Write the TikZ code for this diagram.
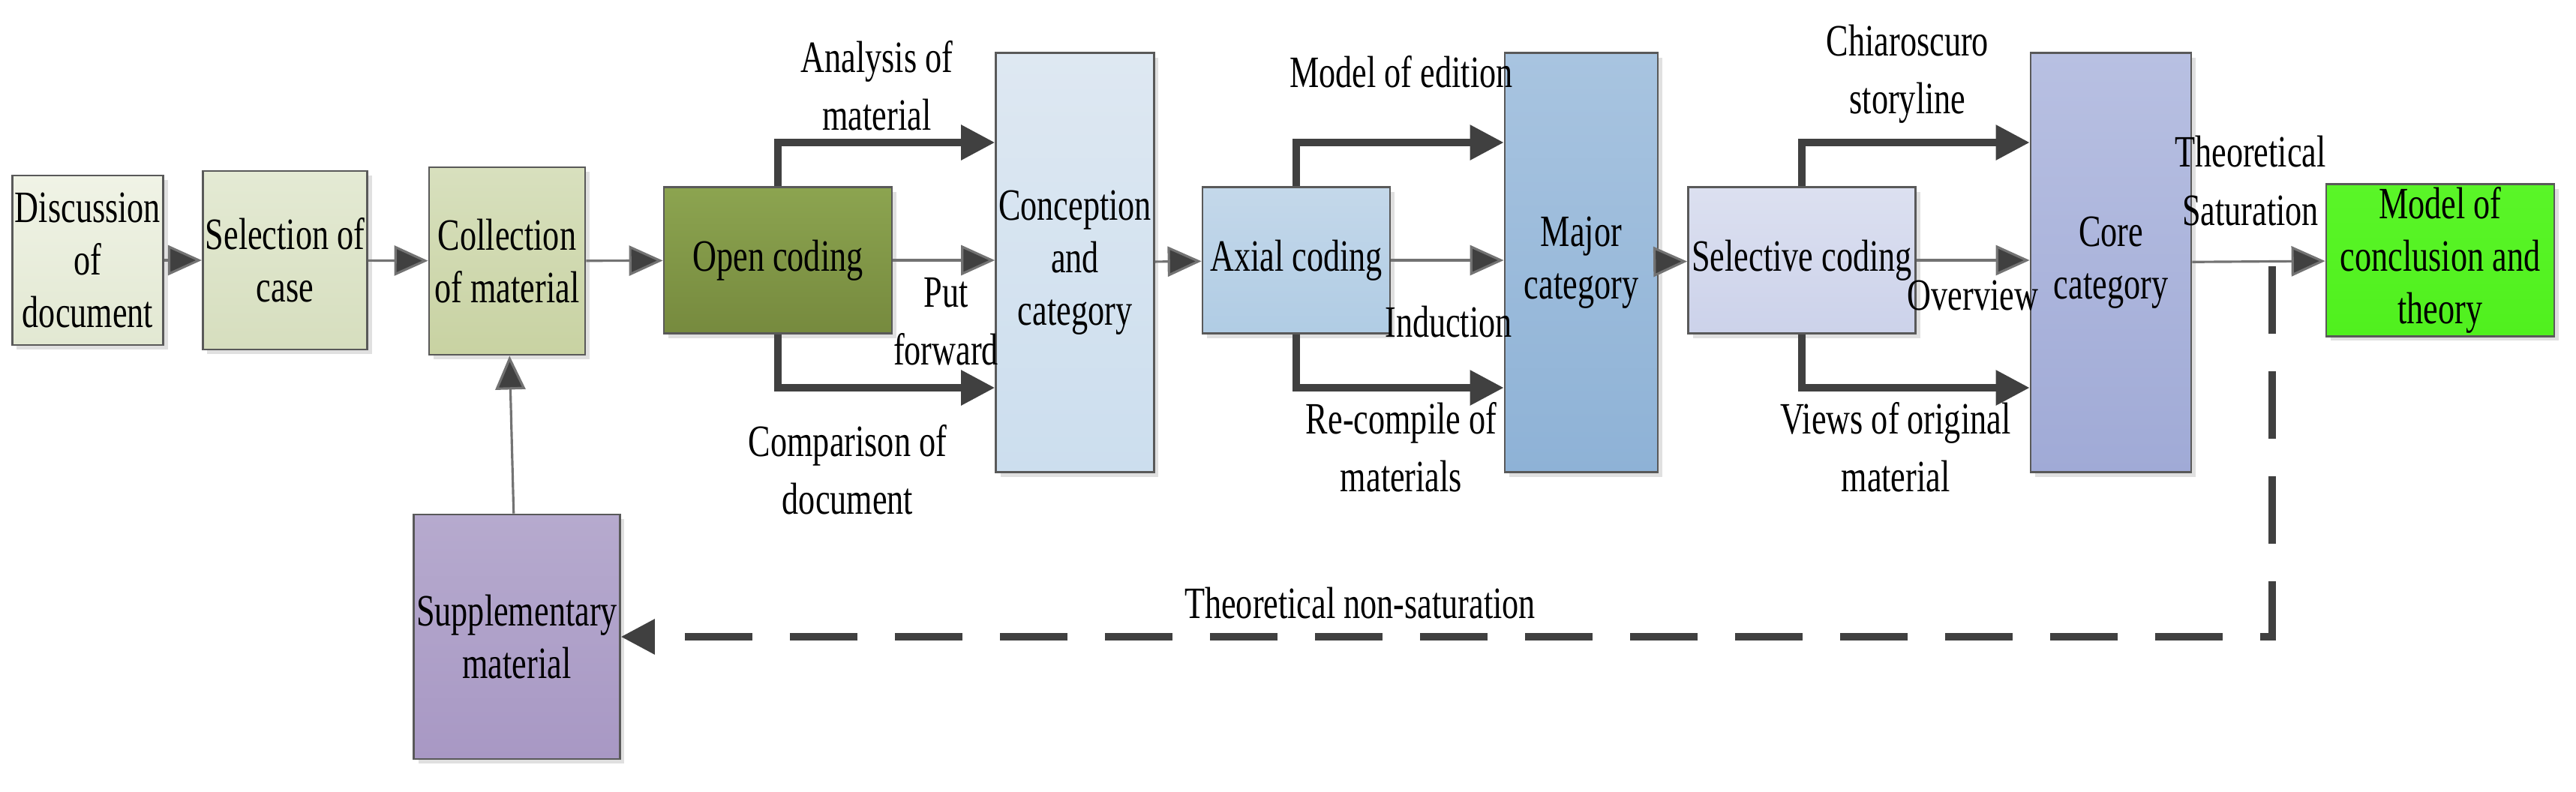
\documentclass[tikz,border=0pt]{standalone}
\usepackage{fontspec}
\setmainfont{Liberation Serif}[FakeStretch=0.74]
\usetikzlibrary{arrows.meta,shadows}
\definecolor{discA}{RGB}{240,243,230}\definecolor{discB}{RGB}{226,232,210}
\definecolor{selA}{RGB}{228,234,212}\definecolor{selB}{RGB}{214,222,190}
\definecolor{collA}{RGB}{216,224,190}\definecolor{collB}{RGB}{200,210,162}
\definecolor{openA}{RGB}{140,164,80}\definecolor{openB}{RGB}{118,138,62}
\definecolor{concA}{RGB}{222,232,242}\definecolor{concB}{RGB}{204,222,238}
\definecolor{axA}{RGB}{196,216,234}\definecolor{axB}{RGB}{176,204,228}
\definecolor{majA}{RGB}{168,196,224}\definecolor{majB}{RGB}{142,178,214}
\definecolor{selcA}{RGB}{220,224,240}\definecolor{selcB}{RGB}{204,210,234}
\definecolor{coreA}{RGB}{184,192,226}\definecolor{coreB}{RGB}{160,170,214}
\definecolor{modA}{RGB}{90,245,40}\definecolor{modB}{RGB}{80,240,30}
\definecolor{supA}{RGB}{182,170,206}\definecolor{supB}{RGB}{168,152,196}
\tikzset{
  box/.style={draw=black!65, line width=0.8pt, align=center,
    font=\fontsize{17}{20}\selectfont, inner sep=1pt,
    drop shadow={shadow xshift=0.6mm, shadow yshift=-0.6mm, fill=black!12, opacity=1}},
  flow/.style={draw=black!55, line width=0.9pt, -{Triangle[length=4.5mm,width=4mm,fill=black!75]}},
  branch/.style={draw=black!75, line width=2.6pt, -{Triangle[length=4.5mm,width=4.5mm]}},
  lbl/.style={font=\fontsize{17}{22}\selectfont, align=center}
}
\newcommand{\shadedbox}[7]{% name, x, y, w, h, top, bottom
  \node[box, top color=#6, bottom color=#7, minimum width=#4cm, minimum height=#5cm] (#1) at (#2,#3)}
\begin{document}
\begin{tikzpicture}[>=latex, y=-1cm]
        \useasboundingbox (0,0) rectangle (34.34,10.55);

        % the main boxes
        \shadedbox{disc}{1.17}{3.47}{1.90}{2.26}{discA}{discB} {Discussion\\of\\document};
        \shadedbox{sel}{3.80}{3.47}{1.82}{2.38}{selA}{selB} {Selection of\\case};
        \shadedbox{coll}{6.76}{3.48}{2.08}{2.50}{collA}{collB} {Collection\\of material};
        \shadedbox{open}{10.37}{3.47}{3.04}{1.95}{openA}{openB} {Open coding};
        \shadedbox{conc}{14.33}{3.50}{1.99}{5.59}{concA}{concB} {Conception\\and\\category};
        \shadedbox{axial}{17.28}{3.47}{2.50}{1.95}{axA}{axB} {Axial coding};
        \shadedbox{major}{21.08}{3.50}{2.04}{5.59}{majA}{majB} {Major\\category};
        \shadedbox{selc}{24.02}{3.47}{3.03}{1.95}{selcA}{selcB} {Selective coding};
        \shadedbox{core}{28.14}{3.50}{2.14}{5.59}{coreA}{coreB} {Core\\category};
        \shadedbox{model}{32.53}{3.47}{3.04}{1.93}{modA}{modB} {Model of\\conclusion and\\theory};
        \shadedbox{supp}{6.89}{8.49}{2.74}{3.26}{supA}{supB} {Supplementary\\material};

        % main flow
        \draw[flow] (disc) -- (sel);
        \draw[flow] (sel) -- (coll);
        \draw[flow] (coll) -- (open);
        \draw[flow] (open) -- (open -| conc.west);
        \draw[flow] (conc) -- (axial);
        \draw[flow] (axial) -- (axial -| major.west);
        \draw[flow] (major) -- (selc);
        \draw[flow] (selc) -- (selc -| core.west);
        \draw[flow] (core) -- (model);
        \draw[flow] (supp) -- (coll);

        % branches
        \foreach \from/\to in {open/conc, axial/major, selc/core} {
                \draw[branch] (\from.north) |- ([yshift=1.6cm]\to.west);
                \draw[branch] (\from.south) |- ([yshift=-1.67cm]\to.west);
        }

        % feedback loop
        \coordinate (turn) at (30.29,3.55);
        \draw[line width=2.6pt, draw=black!75, dash pattern=on 9mm off 5mm, -{Triangle[length=4.5mm,width=4.5mm]}]
                (turn) |- (supp.east);

        % labels
        \node[lbl] (l1) at (11.69,1.14) {Analysis of\\material};
        \node[lbl] (l2) at (12.61,4.29) {Put\\forward};
        \node[lbl] (l3) at (11.30,6.26) {Comparison of\\document};
        \node[lbl] (l4) at (18.68,0.96) {Model of edition};
        \node[lbl] (l5) at (19.31,4.29) {Induction};
        \node[lbl] (l6) at (18.68,5.96) {Re-compile of\\materials};
        \node[lbl] (l7) at (25.43,0.99) {Chiaroscuro\\storyline};
        \node[lbl] (l8) at (26.30,3.94) {Overview};
        \node[lbl] (l9) at (25.27,5.96) {Views of original\\material};
        \node[lbl] (l10) at (30.00,2.41) {Theoretical\\Saturation};
        \node[lbl] (l11) at (18.13,8.04) {Theoretical non-saturation};
\end{tikzpicture}
\end{document}
